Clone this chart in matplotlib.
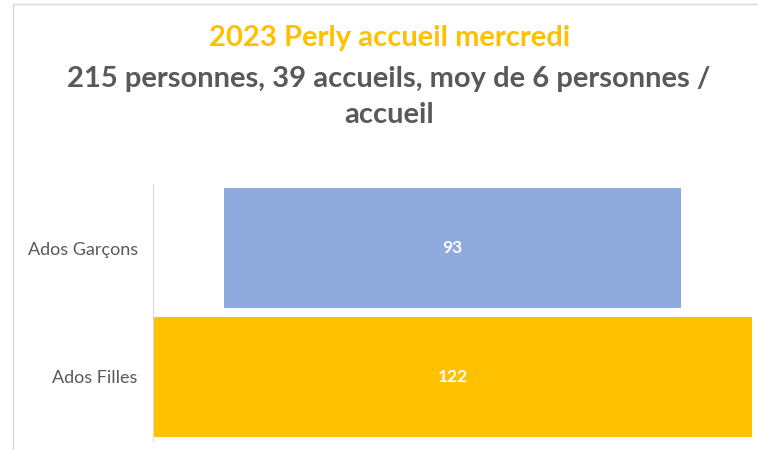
import matplotlib.pyplot as plt
from matplotlib.patches import Rectangle

categories = ["Ados Filles", "Ados Garçons"]
values = [122, 93]
colors = ["#FFC000", "#8FAADC"]

title = "2023 Perly accueil mercredi"
subtitle = "215 personnes, 39 accueils, moy de 6 personnes /\naccueil"

plt.rcParams['font.family'] = ['Lato', 'DejaVu Sans']

W, H = 758, 450
fig = plt.figure(figsize=(W / 100, H / 100), dpi=100)
ax = fig.add_axes([153 / W, 1 - 441 / H, (752 - 153) / W, (441 - 184) / H])

# chart frame (cut off on right and bottom like the screenshot)
fig.patches.append(Rectangle((13 / W, -0.1), 1.2, 1 - 4 / H + 0.1, transform=fig.transFigure,
                             fill=False, edgecolor="#D9D9D9", linewidth=1))

vmax = max(values)
lefts = [(vmax - v) / 2 for v in values]
bars = ax.barh(range(len(values)), values, left=lefts, height=0.93, color=colors)
for b, v in zip(bars, values):
    ax.text(b.get_x() + b.get_width() / 2, b.get_y() + b.get_height() / 2, str(v),
            ha="center", va="center", color="white", fontsize=12.5, fontweight="bold")

ax.set_xlim(0, vmax)
ax.set_ylim(-0.5, 1.5)
ax.set_yticks(range(len(categories)))
ax.set_yticklabels(categories, fontsize=13, color="#595959")
ax.tick_params(axis="y", length=0, pad=11)
ax.set_xticks([])
for s in ["top", "right", "bottom"]:
    ax.spines[s].set_visible(False)
ax.spines["left"].set_color("#D9D9D9")

fig.text(390 / W, 1 - 38 / H, title, ha="center", va="center", color="#FFC000",
         fontsize=21, fontweight="bold")
fig.text(389 / W, 1 - 97 / H, subtitle, ha="center", va="center", color="#595959",
         fontsize=21, fontweight="bold", linespacing=1.45)

fig.savefig("out.png", dpi=100)
